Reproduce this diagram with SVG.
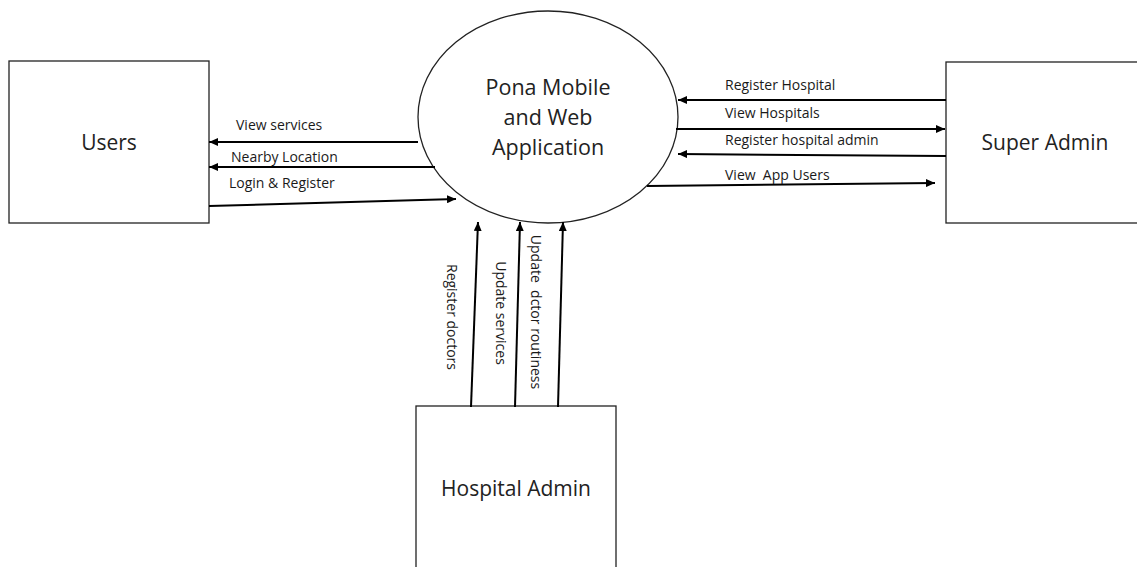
<svg xmlns="http://www.w3.org/2000/svg" width="1137" height="567" viewBox="0 0 1137 567">
<style>
.box{fill:#fff;stroke:#222;stroke-width:1.3}
.big{font-family:"Open Sans","Liberation Sans",sans-serif;font-size:21px;fill:#222;text-anchor:middle}
.lbl{font-family:"Open Sans","Liberation Sans",sans-serif;font-size:14px;fill:#1a1a1a;white-space:pre}
.vl{font-family:"Open Sans","Liberation Sans",sans-serif;font-size:14px;fill:#1a1a1a;text-anchor:middle;white-space:pre}
.arr{stroke:#000;stroke-width:2;fill:none;marker-end:url(#ah)}
</style>
<defs>
<marker id="ah" markerUnits="userSpaceOnUse" markerWidth="9" markerHeight="8" refX="9" refY="4" orient="auto">
<path d="M0,0 L9,4 L0,8 z" fill="#000"/>
</marker>
</defs>
<rect width="1137" height="567" fill="#fff"/>
<g id="users">
<rect class="box" x="9" y="61" width="200" height="162"/>
<text class="big" x="109" y="150">Users</text>
</g>
<g id="app">
<ellipse class="box" cx="548" cy="117" rx="130" ry="106"/>
<text class="big" x="548" y="95" style="font-size:21.5px">Pona Mobile</text>
<text class="big" x="548" y="125" style="font-size:21.5px">and Web</text>
<text class="big" x="548" y="155" style="font-size:21.5px">Application</text>
</g>
<g id="superadmin">
<rect class="box" x="946" y="62" width="200" height="161"/>
<text class="big" x="1045" y="150">Super Admin</text>
</g>
<g id="hospitaladmin">
<rect class="box" x="416" y="406" width="200" height="180"/>
<text class="big" x="516" y="496">Hospital Admin</text>
</g>
<g id="connectors">
<line class="arr" x1="418" y1="142" x2="209" y2="142"/>
<line class="arr" x1="435" y1="167" x2="209" y2="167"/>
<line class="arr" x1="209" y1="206" x2="456" y2="199"/>
<line class="arr" x1="946" y1="100" x2="678" y2="100"/>
<line class="arr" x1="676" y1="129" x2="945" y2="129"/>
<line class="arr" x1="946" y1="156" x2="678" y2="154"/>
<line class="arr" x1="647" y1="186" x2="935" y2="183"/>
<line class="arr" x1="471" y1="407" x2="478" y2="222"/>
<line class="arr" x1="515" y1="407" x2="520" y2="222"/>
<line class="arr" x1="558" y1="407" x2="563" y2="222"/>
<text class="lbl" x="236" y="130">View services</text>
<text class="lbl" x="231" y="162">Nearby Location</text>
<text class="lbl" x="229" y="188">Login &amp; Register</text>
<text class="lbl" x="725" y="90">Register Hospital</text>
<text class="lbl" x="725" y="118">View Hospitals</text>
<text class="lbl" x="725" y="145">Register hospital admin</text>
<text class="lbl" x="725" y="180">View  App Users</text>
<text class="vl" transform="translate(452,317) rotate(90)" y="5">Register doctors</text>
<text class="vl" transform="translate(501,313) rotate(90)" y="5">Update services</text>
<text class="vl" transform="translate(536,312) rotate(90)" y="5">Update  dctor routiness</text>
</g>
</svg>
